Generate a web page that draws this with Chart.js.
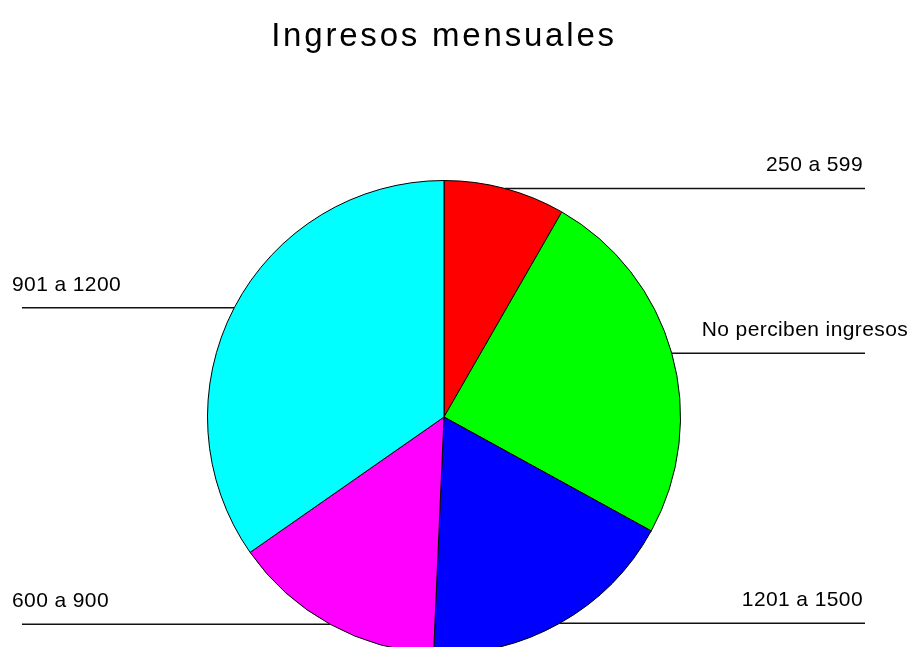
<!DOCTYPE html>
<html>
<head>
<meta charset="utf-8">
<script src="https://cdn.jsdelivr.net/npm/chart.js@4"></script>
<style>
  html, body { margin: 0; padding: 0; background: #fff; }
  #wrap { width: 911px; height: 647px; overflow: hidden; position: relative; }
</style>
</head>
<body>
<div id="wrap">
  <canvas id="pie" width="911" height="700"></canvas>
</div>
<script>
// Data
const titulo = 'Ingresos mensuales';
const categorias = ['250 a 599', 'No perciben ingresos', '1201 a 1500', '600 a 900', '901 a 1200'];
const porcentajes = [8.3, 24.7, 17.7, 14.6, 34.7];
const colores = ['#ff0000', '#00ff00', '#0000ff', '#ff00ff', '#00ffff'];

// Title + leader lines with labels
const etiquetasPlugin = {
  id: 'etiquetas',
  afterDraw(chart) {
    const ctx = chart.ctx;
    ctx.save();

    // title
    ctx.fillStyle = '#000';
    ctx.font = '33px "Liberation Sans", Arial, sans-serif';
    ctx.letterSpacing = '2.8px';
    ctx.textAlign = 'center';
    ctx.textBaseline = 'alphabetic';
    ctx.fillText(titulo, 444, 46);

    ctx.font = '21px "Liberation Sans", Arial, sans-serif';
    ctx.letterSpacing = '0.4px';
    ctx.strokeStyle = '#111';
    ctx.lineWidth = 1.5;

    const meta = chart.getDatasetMeta(0);
    meta.data.forEach((arc, i) => {
      const mid = (arc.startAngle + arc.endAngle) / 2;
      const px = arc.x + Math.cos(mid) * arc.outerRadius;
      const py = arc.y + Math.sin(mid) * arc.outerRadius;
      ctx.beginPath();
      if (Math.cos(mid) >= 0) {
        ctx.moveTo(px, py);
        ctx.lineTo(865, py);
        ctx.stroke();
        // long labels get pushed right so they clear the pie
        const w = ctx.measureText(categorias[i]).width;
        const left = Math.max(863 - w, px + 30);
        ctx.textAlign = 'left';
        ctx.fillText(categorias[i], left, py - 17);
      } else {
        ctx.moveTo(22, py);
        ctx.lineTo(px, py);
        ctx.stroke();
        ctx.textAlign = 'left';
        ctx.fillText(categorias[i], 12, py - 17);
      }
    });
    ctx.restore();
  }
};

new Chart(document.getElementById('pie'), {
  type: 'pie',
  data: {
    labels: categorias,
    datasets: [{
      data: porcentajes,
      backgroundColor: colores,
      borderColor: '#000',
      borderWidth: 1
    }]
  },
  options: {
    responsive: false,
    animation: false,
    devicePixelRatio: 1,
    layout: { padding: { left: 207, right: 230, top: 180, bottom: 46 } },
    plugins: {
      legend: { display: false },
      tooltip: { enabled: false },
      title: { display: false }
    }
  },
  plugins: [etiquetasPlugin]
});
</script>
</body>
</html>
